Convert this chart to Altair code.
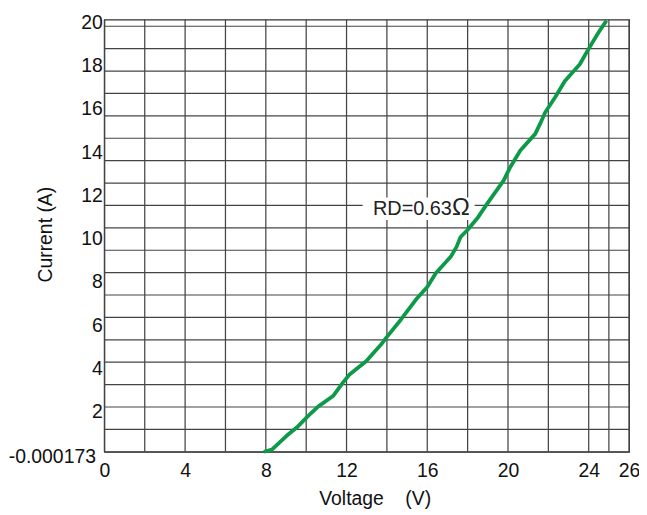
import altair as alt
import pandas as pd
import json

# ---- data ----
VOLTAGE = [7.9, 8.3, 9.03, 9.53, 10.10, 10.59, 11.33, 11.82, 12.15, 12.97, 13.71, 13.96,
           14.69, 15.43, 16.01, 16.42, 17.16, 17.45, 17.65, 17.98, 18.47, 18.97, 19.79,
           20.11, 20.61, 21.35, 21.59, 21.84, 22.33, 22.82, 23.56, 23.98, 24.47, 24.88]
CURRENT = [0.0, 0.1, 0.74, 1.12, 1.66, 2.09, 2.58, 3.20, 3.58, 4.19, 4.96, 5.27,
           6.11, 7.03, 7.64, 8.26, 9.02, 9.48, 9.94, 10.25, 10.79, 11.48, 12.56,
           13.17, 13.94, 14.71, 15.17, 15.70, 16.39, 17.16, 17.93, 18.62, 19.38, 19.95]

X_DOMAIN = [0, 26]
Y_DOMAIN = [-0.000173, 20]
X_TICK_VALUES = [0, 4, 8, 12, 16, 20, 24, 26]
X_TICK_LABELS = ["0", "4", "8", "12", "16", "20", "24", "26"]
Y_TICK_VALUES = [-0.000173, 2, 4, 6, 8, 10, 12, 14, 16, 18, 20]
Y_TICK_LABELS = ["-0.000173", "2", "4", "6", "8", "10", "12", "14", "16", "18", "20"]

# background grid (drawn on its own ruling, as in the reference)
X_GRID = [0, 2, 4, 6, 8, 10, 12, 14, 16, 18, 20, 22, 24, 25, 26]
Y_GRID = list(range(0, 20))
Y_GRID_DOMAIN = [0, 19.3]

ANNOT_TEXT = "RD=0.63"
ANNOT_UNIT = "Ω"
ANNOT_X = 17.22
ANNOT_Y = 11.25
ANNOT_BOX = {"x": 12.8, "x2": 18.35, "y": 10.72, "y2": 11.77}

X_TITLE = "Voltage\u00a0\u00a0\u00a0\u00a0(V)"
Y_TITLE = "Current (A)"

FONT = "Liberation Sans"
GREEN = "#0c9a48"
GRID_COLOR = "#444444"
FS = 19.5


def label_expr(values, labels):
    return f"{json.dumps(labels)}[indexof({json.dumps(values)}, datum.value)]"


xs = alt.Scale(domain=X_DOMAIN, nice=False, zero=False)
ys = alt.Scale(domain=Y_DOMAIN, nice=False, zero=False)

vgrid = alt.Chart(pd.DataFrame({"gx": X_GRID})).mark_rule(
    color=GRID_COLOR, strokeWidth=1.25
).encode(x=alt.X("gx:Q", scale=xs, axis=None))

hgrid = alt.Chart(pd.DataFrame({"gy": Y_GRID})).mark_rule(
    color=GRID_COLOR, strokeWidth=1.2
).encode(y=alt.Y("gy:Q", scale=alt.Scale(domain=Y_GRID_DOMAIN, nice=False, zero=False), axis=None))

box = alt.Chart(pd.DataFrame([ANNOT_BOX])).mark_rect(color="white").encode(
    x=alt.X("x:Q", scale=xs, axis=None),
    x2="x2:Q",
    y=alt.Y("y:Q", scale=ys, axis=None),
    y2="y2:Q",
)

line = alt.Chart(pd.DataFrame({"v": VOLTAGE, "i": CURRENT})).mark_line(
    color=GREEN, strokeWidth=3.8, strokeJoin="round", strokeCap="butt"
).encode(
    x=alt.X(
        "v:Q", scale=xs,
        axis=alt.Axis(
            values=X_TICK_VALUES, labelExpr=label_expr(X_TICK_VALUES, X_TICK_LABELS),
            grid=False, ticks=False, domain=False, labelFlush=False, labelOverlap=False,
            labelPadding=10, labelFontSize=FS, labelFont=FONT, labelColor="#111",
            title=X_TITLE, titleFont=FONT, titleFontSize=FS, titleFontWeight="normal",
            titleColor="#111", titleX=272, titleY=47, titleAlign="center", titleBaseline="middle",
        ),
    ),
    y=alt.Y(
        "i:Q", scale=ys,
        axis=alt.Axis(
            values=Y_TICK_VALUES, labelExpr=label_expr(Y_TICK_VALUES, Y_TICK_LABELS),
            grid=False, ticks=False, domain=False, labelOverlap=False,
            labelPadding={"condition": {"test": "datum.value < 0", "value": 9}, "value": 2},
            labelOffset={"condition": {"test": "datum.value < 0", "value": 5}, "value": 3},
            labelFontSize=FS, labelFont=FONT, labelColor="#111",
            title=Y_TITLE, titleFont=FONT, titleFontSize=FS, titleFontWeight="normal",
            titleColor="#111", titleX=-59, titleY=216, titleAngle=-90,
            titleAlign="center", titleBaseline="middle",
        ),
    ),
)

text_df = pd.DataFrame({"x": [ANNOT_X], "y": [ANNOT_Y], "t": [ANNOT_TEXT], "u": [ANNOT_UNIT]})
txt = alt.Chart(text_df).mark_text(
    align="right", baseline="middle", font=FONT, fontSize=20, color="#222"
).encode(
    x=alt.X("x:Q", scale=xs, axis=None),
    y=alt.Y("y:Q", scale=ys, axis=None),
    text="t:N",
)
unit = alt.Chart(text_df).mark_text(
    align="left", baseline="middle", font=FONT, fontSize=24, color="#222", dy=-1
).encode(
    x=alt.X("x:Q", scale=xs, axis=None),
    y=alt.Y("y:Q", scale=ys, axis=None),
    text="u:N",
)

chart = alt.layer(vgrid, hgrid, box, line, txt, unit).resolve_scale(
    x="independent", y="independent"
).properties(
    width=528, height=435,
    autosize=alt.AutoSizeParams(type="none"),
    padding={"left": 97, "top": 10, "right": 10, "bottom": 62},
    background="white",
).configure_view(stroke="#333333", strokeWidth=1.2)

chart.save("out.html", embed_options={"renderer": "svg", "actions": False})
